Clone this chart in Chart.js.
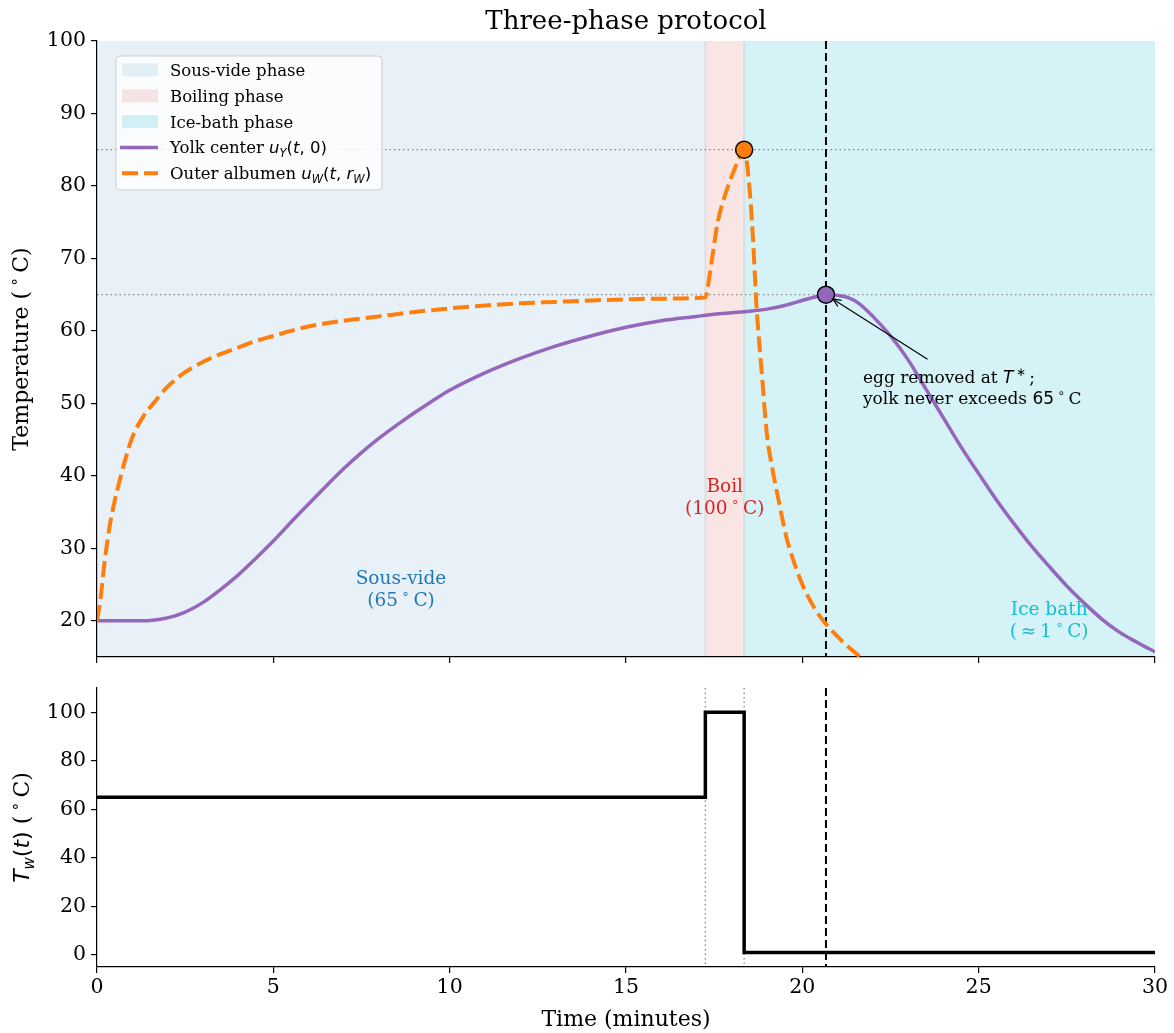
<!DOCTYPE html>
<html>
<head>
<meta charset="utf-8">
<script src="https://cdn.jsdelivr.net/npm/chart.js@4.4.1/dist/chart.umd.min.js"></script>
<style>
  body { margin: 0; background: #fff; }
  #c1 { position: absolute; left: 0; top: 0; }
  #c2 { position: absolute; left: 0; top: 672px; }
</style>
</head>
<body>
<canvas id="c1" width="1174" height="672"></canvas>
<canvas id="c2" width="1174" height="361"></canvas>
<script>
// time axis (minutes)
const xTicks = [0, 5, 10, 15, 20, 25, 30];
const topYTicks = [20, 30, 40, 50, 60, 70, 80, 90, 100];
const botYTicks = [0, 20, 40, 60, 80, 100];

// phases
const phaseNames = ["Sous-vide phase", "Boiling phase", "Ice-bath phase"];
const phaseStart = [0, 17.25, 18.35];
const phaseEnd = [17.25, 18.35, 30];
const waterTemp = [65, 100, 1];
const tStar = 20.67;
const yolkLimit = 65;
const albPeakT = 18.35;
const albPeak = 85;

// yolk center u_Y(t,0)
const yolkT = [0, 1.0, 1.5, 2.0, 2.5, 3.0, 3.5, 4.0, 4.5, 5.0, 5.5, 6.0, 6.5, 7.0, 7.5, 8.0, 8.5, 9.0, 9.5, 10,
  11, 12, 13, 14, 15, 16, 17, 17.5, 18, 18.5, 19, 19.5, 20, 20.3, 20.67, 21.0, 21.3, 21.6, 22, 22.5, 23, 23.5, 24,
  24.5, 25, 25.5, 26, 26.5, 27, 27.5, 28, 28.5, 29, 29.5, 30];
const yolkU = [20, 20, 20.05, 20.4, 21.2, 22.5, 24.3, 26.3, 28.6, 31.0, 33.6, 36.1, 38.6, 41.0, 43.2, 45.2, 47.0, 48.7, 50.3, 51.8,
  54.2, 56.2, 57.9, 59.3, 60.5, 61.4, 62.0, 62.3, 62.5, 62.7, 63.0, 63.5, 64.2, 64.6, 65.0, 64.9, 64.6, 63.8, 62.0, 59.3, 56.0, 52.0, 48.0,
  44.0, 40.3, 36.7, 33.4, 30.3, 27.5, 24.8, 22.4, 20.2, 18.4, 17.0, 15.7];

// outer albumen u_W(t,r_W)
const albT = [0, 0.1, 0.2, 0.35, 0.5, 0.65, 0.8, 1.0, 1.3, 1.6, 2.0, 2.5, 3.0, 3.5, 4.0, 4.5, 5.0, 5.5, 6.0, 7.0, 8.0, 9.0,
  10, 11, 12, 13, 14, 15, 16, 17.25, 17.3, 17.45, 17.6, 17.8, 18.05, 18.2, 18.35, 18.5, 18.6, 18.7, 18.85, 19.0,
  19.15, 19.3, 19.55, 19.75, 20.0, 20.4, 20.7, 21.0, 21.3, 21.65, 22.0];
const albU = [20, 23, 27.5, 32.8, 36.5, 39.5, 42.2, 45.3, 48.1, 50.0, 52.3, 54.3, 55.7, 56.8, 57.7, 58.6, 59.3, 60.0, 60.6, 61.4, 62.0, 62.6,
  63.1, 63.5, 63.8, 64.0, 64.2, 64.35, 64.45, 64.6, 65.5, 70.3, 75, 78.6, 82, 83.7, 85, 79.8, 72.8, 63.5, 54.2, 45.5,
  41, 37.3, 31.5, 28.3, 25, 21.3, 19.4, 17.8, 16.4, 15.0, 13.8];

const SERIF = '"DejaVu Serif", serif';
const SANS = '"DejaVu Sans", sans-serif';
const sf = s => s + 'px ' + SERIF;
const mf = s => s + 'px ' + SANS;
const mi = s => 'italic ' + s + 'px ' + SANS;

const spanFill = ['rgba(31,119,180,0.10)', 'rgba(214,39,40,0.12)', 'rgba(23,190,207,0.18)'];
const PURPLE = '#9467bd', ORANGE = '#ff7f0e';
const TICK = 20.5, LABEL = 22;

// draws mixed-font text on one baseline
function rich(ctx, parts, x, y, align) {
  let w = 0;
  parts.forEach(p => { ctx.font = p[1]; w += ctx.measureText(p[0]).width; });
  let cx = align === 'center' ? x - w / 2 : x;
  ctx.textAlign = 'left';
  ctx.textBaseline = 'alphabetic';
  parts.forEach(p => {
    ctx.font = p[1];
    ctx.fillText(p[0], cx, y + (p[2] || 0));
    cx += ctx.measureText(p[0]).width;
  });
}

function vline(ctx, area, x, color, width, dash) {
  ctx.save();
  ctx.strokeStyle = color; ctx.lineWidth = width; ctx.setLineDash(dash);
  ctx.beginPath(); ctx.moveTo(x, area.top); ctx.lineTo(x, area.bottom); ctx.stroke();
  ctx.restore();
}
function hline(ctx, area, y, color, width, dash) {
  ctx.save();
  ctx.strokeStyle = color; ctx.lineWidth = width; ctx.setLineDash(dash);
  ctx.beginPath(); ctx.moveTo(area.left, y); ctx.lineTo(area.right, y); ctx.stroke();
  ctx.restore();
}

function xAxis(labels) {
  return {
    type: 'linear', min: 0, max: 30,
    afterBuildTicks: s => { s.ticks = xTicks.map(v => ({ value: v })); },
    afterFit: s => { s.height = labels ? 66 : 15; s.paddingLeft = s.paddingRight = 0; },
    ticks: {
      autoSkip: false, maxRotation: 0, padding: 2, color: '#000',
      font: { family: SERIF, size: TICK },
      callback: v => labels ? String(v) : ''
    },
    grid: { drawOnChartArea: false, color: '#000', lineWidth: 1.2, tickLength: 6 },
    border: { color: '#000', width: 1.2 },
    title: {
      display: labels, text: 'Time (minutes)', color: '#000',
      font: { family: SERIF, size: LABEL }, padding: { top: 0, bottom: 0 }
    }
  };
}
function yAxis(min, max, ticks) {
  return {
    type: 'linear', min: min, max: max,
    afterBuildTicks: s => { s.ticks = ticks.map(v => ({ value: v })); },
    afterFit: s => { s.width = 97; s.paddingTop = s.paddingBottom = 0; },
    ticks: { padding: 5, color: '#000', font: { family: SERIF, size: TICK } },
    grid: { drawOnChartArea: false, color: '#000', lineWidth: 1.2, tickLength: 6 },
    border: { color: '#000', width: 1.2 }
  };
}

const deg = s => ['\u2218', mf(s), -Math.round(s * 0.6)];

const topDecor = {
  id: 'topDecor',
  beforeDraw(chart) {
    const { ctx, chartArea: a, scales: { x, y } } = chart;
    phaseStart.forEach((s, i) => {
      const x0 = x.getPixelForValue(s), x1 = x.getPixelForValue(phaseEnd[i]);
      ctx.fillStyle = spanFill[i];
      ctx.fillRect(x0, a.top, x1 - x0, a.bottom - a.top);
    });
    [phaseStart[1], phaseStart[2]].forEach(t => {
      vline(ctx, a, x.getPixelForValue(t), 'rgba(120,110,140,0.12)', 2, []);
    });
    hline(ctx, a, y.getPixelForValue(albPeak), '#888', 1.3, [1.5, 3]);
    hline(ctx, a, y.getPixelForValue(yolkLimit), '#888', 1.3, [1.5, 3]);
    vline(ctx, a, x.getPixelForValue(tStar), '#000', 2, [8, 4]);
  },
  afterDraw(chart) {
    const { ctx, chartArea: a, scales: { x, y } } = chart;
    ctx.save();
    ctx.fillStyle = '#000';
    // title
    rich(ctx, [['Three-phase protocol', sf(26)]], (a.left + a.right) / 2, 29, 'center');
    // y label
    ctx.save();
    ctx.translate(20, (a.top + a.bottom) / 2);
    ctx.rotate(-Math.PI / 2);
    rich(ctx, [['Temperature (\u2009', sf(LABEL)], deg(15), ['\u2009C)', sf(LABEL)]], 0, 8, 'center');
    ctx.restore();

    // phase labels
    const PF = 18.5;
    const lab = (t, v, color, l1, l2) => {
      const px = x.getPixelForValue(t), py = y.getPixelForValue(v);
      ctx.fillStyle = color;
      rich(ctx, l1, px, py - 5, 'center');
      rich(ctx, l2, px, py + 17, 'center');
    };
    lab(8.62, 24.4, '#1f77b4', [['Sous-vide', sf(PF)]], [['(65\u2009', sf(PF)], deg(13), ['\u2009C)', sf(PF)]]);
    lab(17.8, 37.1, '#d62728', [['Boil', sf(PF)]], [['(100\u2009', sf(PF)], deg(13), ['\u2009C)', sf(PF)]]);
    lab(27.0, 20.1, '#17becf', [['Ice bath', sf(PF)]],
      [['(\u2009', sf(PF)], ['\u2248\u2009', mf(PF)], ['1\u2009', sf(PF)], deg(13), ['\u2009C)', sf(PF)]]);

    // annotation with arrow
    const hx = x.getPixelForValue(tStar), hy = y.getPixelForValue(yolkLimit);
    const tx = x.getPixelForValue(23.55), ty = y.getPixelForValue(56.1);
    const ang = Math.atan2(hy - ty, hx - tx);
    const ex = hx - Math.cos(ang) * 8, ey = hy - Math.sin(ang) * 8;
    ctx.strokeStyle = '#000'; ctx.lineWidth = 1.2; ctx.setLineDash([]);
    ctx.beginPath(); ctx.moveTo(tx, ty); ctx.lineTo(ex, ey); ctx.stroke();
    ctx.beginPath();
    ctx.moveTo(ex - Math.cos(ang - 0.4) * 9, ey - Math.sin(ang - 0.4) * 9);
    ctx.lineTo(ex, ey);
    ctx.lineTo(ex - Math.cos(ang + 0.4) * 9, ey - Math.sin(ang + 0.4) * 9);
    ctx.stroke();
    ctx.fillStyle = '#000';
    const AF = 17;
    const ax = x.getPixelForValue(21.72), ay = y.getPixelForValue(52.3);
    rich(ctx, [['egg removed at ', sf(AF)], ['T', mi(AF)], ['\u2009\u2217', mf(12), -7], ['\u2009;', sf(AF)]], ax, ay - 4, 'left');
    rich(ctx, [['yolk never exceeds ', sf(AF)], ['65', mf(AF)], ['\u2009', sf(AF)], deg(12), ['\u2009C', sf(AF)]], ax, ay + 17, 'left');

    // legend
    const LF = 16.5;
    const L = 116, T = 56, W = 266, H = 134;
    ctx.beginPath();
    ctx.roundRect(L, T, W, H, 4);
    ctx.fillStyle = 'rgba(255,255,255,0.8)';
    ctx.fill();
    ctx.strokeStyle = '#cccccc'; ctx.lineWidth = 1; ctx.stroke();
    const rowY = i => T + 14 + i * 25.8;
    phaseNames.forEach((n, i) => {
      ctx.fillStyle = spanFill[i];
      ctx.fillRect(L + 6, rowY(i) - 6.5, 36, 13);
      ctx.fillStyle = '#000';
      rich(ctx, [[n, sf(LF)]], L + 54, rowY(i) + 6, 'left');
    });
    ctx.lineWidth = 3.5;
    ctx.strokeStyle = PURPLE;
    ctx.beginPath(); ctx.moveTo(L + 4, rowY(3)); ctx.lineTo(L + 42, rowY(3)); ctx.stroke();
    ctx.strokeStyle = ORANGE; ctx.lineWidth = 4; ctx.setLineDash([16, 6]);
    ctx.beginPath(); ctx.moveTo(L + 6, rowY(4)); ctx.lineTo(L + 42, rowY(4)); ctx.stroke();
    ctx.setLineDash([]);
    ctx.fillStyle = '#000';
    rich(ctx, [['Yolk center ', sf(LF)], ['u', mi(LF)], ['Y', mi(11.5), 4], ['(', mf(LF)], ['t', mi(LF)], [', 0)', mf(LF)]],
      L + 54, rowY(3) + 6, 'left');
    rich(ctx, [['Outer albumen ', sf(LF)], ['u', mi(LF)], ['W', mi(11.5), 4], ['(', mf(LF)], ['t', mi(LF)], [', ', mf(LF)],
      ['r', mi(LF)], ['W', mi(11.5), 4], [')', mf(LF)]], L + 54, rowY(4) + 6, 'left');
    ctx.restore();
  }
};

const botDecor = {
  id: 'botDecor',
  beforeDraw(chart) {
    const { ctx, chartArea: a, scales: { x } } = chart;
    [phaseStart[1], phaseStart[2]].forEach(t => {
      vline(ctx, a, x.getPixelForValue(t), '#888', 1.3, [1.5, 3]);
    });
    vline(ctx, a, x.getPixelForValue(tStar), '#000', 2, [8, 4]);
  },
  afterDraw(chart) {
    const { ctx, chartArea: a } = chart;
    ctx.save();
    ctx.fillStyle = '#000';
    ctx.translate(21, (a.top + a.bottom) / 2);
    ctx.rotate(-Math.PI / 2);
    rich(ctx, [['T', mi(LABEL)], ['w', mi(15), 5], ['(', mf(LABEL)], ['t', mi(LABEL)], [')', mf(LABEL)], [' (\u2009', sf(LABEL)], deg(15), ['\u2009C)', sf(LABEL)]],
      0, 8, 'center');
    ctx.restore();
  }
};

const common = {
  responsive: false, animation: false, devicePixelRatio: 1, events: [],
  plugins: { legend: { display: false }, tooltip: { enabled: false } }
};

new Chart(document.getElementById('c1'), {
  type: 'line',
  data: {
    datasets: [
      {
        data: [{ x: albPeakT, y: albPeak }], type: 'scatter', order: 0, clip: false,
        pointRadius: 8.5, pointBackgroundColor: ORANGE, pointBorderColor: '#000', pointBorderWidth: 1.5
      },
      {
        data: [{ x: tStar, y: yolkLimit }], type: 'scatter', order: 0, clip: false,
        pointRadius: 8.5, pointBackgroundColor: PURPLE, pointBorderColor: '#000', pointBorderWidth: 1.5
      },
      {
        label: 'Outer albumen', data: albT.map((t, i) => ({ x: t, y: albU[i] })), order: 1,
        borderColor: ORANGE, borderWidth: 4, borderDash: [16, 6], pointRadius: 0,
        cubicInterpolationMode: 'monotone', clip: 0
      },
      {
        label: 'Yolk center', data: yolkT.map((t, i) => ({ x: t, y: yolkU[i] })), order: 2,
        borderColor: PURPLE, borderWidth: 3.5, pointRadius: 0,
        cubicInterpolationMode: 'monotone', clip: 0
      }
    ]
  },
  options: Object.assign({}, common, {
    layout: { padding: { top: 41, right: 19, left: 0, bottom: 0 } },
    scales: { x: xAxis(false), y: yAxis(15, 100, topYTicks) }
  }),
  plugins: [topDecor]
});

const stepPts = phaseStart.map((s, i) => ({ x: s, y: waterTemp[i] }));
stepPts.push({ x: phaseEnd[phaseEnd.length - 1], y: waterTemp[waterTemp.length - 1] });

new Chart(document.getElementById('c2'), {
  type: 'line',
  data: {
    datasets: [{
      label: 'Tw', data: stepPts, stepped: 'before',
      borderColor: '#000', borderWidth: 3.5, pointRadius: 0, clip: 0
    }]
  },
  options: Object.assign({}, common, {
    layout: { padding: { top: 16, right: 19, left: 0, bottom: 0 } },
    scales: { x: xAxis(true), y: yAxis(-5, 110, botYTicks) }
  }),
  plugins: [botDecor]
});
</script>
</body>
</html>
